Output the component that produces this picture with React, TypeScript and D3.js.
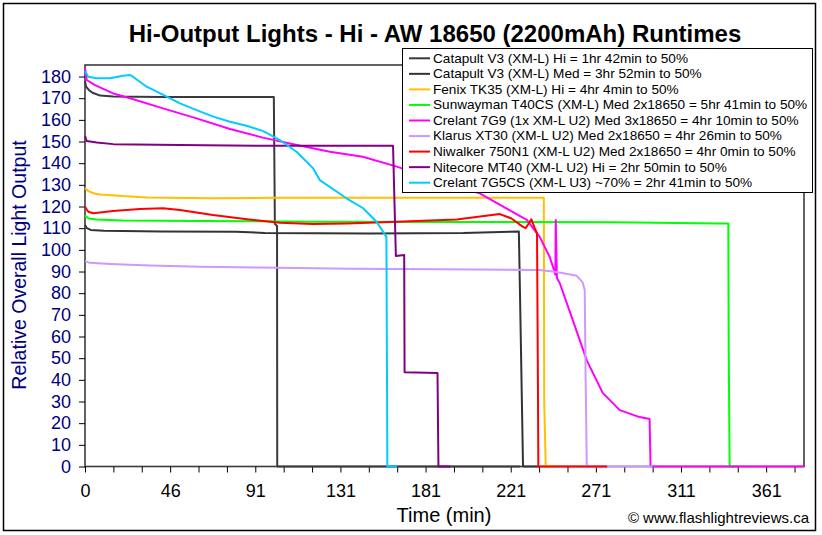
import { useEffect, useRef } from "react"
import * as d3 from "d3"

type Pt = [number, number]

// time (min), relative output
const catapultHi: Pt[] = [
  [0, 178], [0.5, 175.5], [2, 173.8], [4, 172.5], [8, 171.2], [15, 170.8], [40, 170.5],
  [70, 170.6], [99.8, 170.5], [100.35, 112], [101.5, 111], [101.6, 0], [230, 0],
]
const catapultMed: Pt[] = [
  [0, 111.5], [1, 110], [3, 109.2], [10, 108.8], [40, 108.5], [80, 108.3], [95, 107.8],
  [150, 107.6], [200, 107.8], [229.3, 108.5], [230.3, 60], [231.5, 0], [240, 0],
]
const fenixTK35: Pt[] = [
  [0, 128.4], [2, 127], [5, 126], [8, 125.6], [20, 124.8], [33, 124.2], [67, 123.8],
  [100, 124], [150, 124], [200, 124], [242.5, 124], [242.7, 30], [243.5, 0], [250, 0],
]
const sunwaymanT40CS: Pt[] = [
  [0, 115.8], [2, 114.5], [6, 114], [20, 113.6], [60, 113.3], [120, 113], [200, 112.9],
  [280, 112.7], [335, 112.2], [340, 112.2], [340.2, 56], [340.7, 0], [345, 0],
]
const crelant7G9: Pt[] = [
  [0, 184], [0.9, 178.4], [5.3, 176], [14.9, 172.2], [23.8, 170], [41.2, 165.3], [59, 160.7],
  [76.6, 155.8], [94, 151.8], [112, 148.4], [129.4, 145.3], [146.8, 143], [164.8, 138.4],
  [187.5, 131.8], [208.6, 126.1], [222.9, 119], [233.5, 113.8], [240.3, 106], [245.6, 96.7],
  [248.2, 89.8], [248.6, 88.5], [248.8, 113.8], [249.4, 87], [250.9, 84.7], [257.8, 67.6],
  [265.2, 49], [273.6, 34], [282.6, 26], [293.1, 22.8], [298.4, 21.9], [298.9, 0], [380, 0],
]
const klarusXT30: Pt[] = [
  [0, 94.8], [2.6, 94], [13.2, 93.5], [34.3, 92.8], [60.7, 92.2], [92.4, 91.8], [140, 91.3],
  [187.5, 91], [240.3, 90.7], [249.3, 89.8], [259.9, 88], [263, 85], [264.1, 81.5],
  [264.6, 40], [265.2, 0], [300, 0],
]
const niwalker750N1: Pt[] = [
  [0, 119.9], [1.7, 117.6], [4.4, 116.9], [14.8, 117.9], [29, 118.8], [41.2, 119.2],
  [50.2, 118.4], [67.6, 116.1], [85.6, 114.1], [103, 112.5], [120.4, 111.9], [138.4, 112.2],
  [164.8, 113], [196.5, 114], [219.2, 116.5], [225.4, 114.5], [231.3, 110.7], [232.9, 110],
  [235.9, 114.1], [237.7, 110], [238.9, 107.6], [239.3, 50], [239.6, 0], [276, 0],
]
const nitecoreMT40: Pt[] = [
  [0, 152.7], [0.9, 150.2], [6.2, 149.5], [14.9, 148.8], [50, 148.4], [103, 148],
  [162.8, 148], [164.3, 97.2], [168.7, 97.6], [168.9, 43.5], [186.3, 43.2], [186.8, 0], [193, 0],
]
const crelant7G5CS: Pt[] = [
  [0, 182.5], [1.7, 179.9], [6.2, 179.2], [13.2, 179.2], [20.2, 180.4], [23.8, 180.7],
  [25.5, 179.8], [32.6, 175.3], [41.4, 171.5], [50.2, 167.6], [59, 164.5], [67.8, 161.5],
  [76.6, 159.1], [85.4, 157.3], [94.2, 154.8], [103, 150.7], [111.8, 145.3], [120.6, 137.6],
  [124.1, 132.2], [138.2, 123.8], [147, 119.2], [154.1, 113], [159.3, 106], [159.8, 0], [165, 0],
]

const seriesNames = [
  "Catapult V3 (XM-L) Hi = 1hr 42min to 50%",
  "Catapult V3 (XM-L) Med = 3hr 52min to 50%",
  "Fenix TK35 (XM-L) Hi = 4hr 4min to 50%",
  "Sunwayman T40CS (XM-L) Med 2x18650 = 5hr 41min to 50%",
  "Crelant 7G9 (1x XM-L U2) Med 3x18650 = 4hr 10min to 50%",
  "Klarus XT30 (XM-L U2) Med 2x18650 = 4hr 26min to 50%",
  "Niwalker 750N1 (XM-L U2) Med 2x18650 = 4hr 0min to 50%",
  "Nitecore MT40 (XM-L U2) Hi = 2hr 50min to 50%",
  "Crelant 7G5CS (XM-L U3) ~70% = 2hr 41min to 50%",
]
const seriesData = [
  catapultHi, catapultMed, fenixTK35, sunwaymanT40CS, crelant7G9,
  klarusXT30, niwalker750N1, nitecoreMT40, crelant7G5CS,
]
const seriesColors = [
  "#3a3a3a", "#333333", "#ffc000", "#00ff00", "#ff00ff",
  "#cc99ff", "#ff0000", "#800080", "#00ccff",
]

const yTicks = [0, 10, 20, 30, 40, 50, 60, 70, 80, 90, 100, 110, 120, 130, 140, 150, 160, 170, 180]
const xTickMinutes = [0, 15, 30, 45, 60, 75, 90, 105, 120, 135, 150, 165, 180, 195, 210, 225, 240, 255, 270, 285, 300, 315, 330, 345, 360, 375]
const xTickLabels = ["0", "46", "91", "131", "181", "221", "271", "311", "361"]

const W = 822
const H = 535
const FONT = "'Liberation Sans', Arial, sans-serif"

export default function App() {
  const ref = useRef<SVGSVGElement>(null)

  useEffect(() => {
    if (!ref.current) return
    const svg = d3.select(ref.current)
    svg.selectAll("*").remove()

    const left = 85, right = 804, top = 65, bottom = 466.5
    const x = d3.scaleLinear().domain([0, 380]).range([left, right])
    const y = d3.scaleLinear().domain([0, 185]).range([bottom, top + 0.7])

    // outer frame
    svg.append("rect").attr("x", 3.5).attr("y", 3.5).attr("width", 812).attr("height", 527)
      .attr("fill", "#fff").attr("stroke", "#000").attr("stroke-width", 1.5)

    // title
    svg.append("text").attr("x", 435).attr("y", 42).attr("text-anchor", "middle")
      .attr("font-family", FONT).attr("font-size", 24).attr("font-weight", "bold")
      .text("Hi-Output Lights - Hi - AW 18650 (2200mAh) Runtimes")

    // plot area
    svg.append("rect").attr("x", left).attr("y", top).attr("width", right - left).attr("height", bottom - top)
      .attr("fill", "#fff").attr("stroke", "#3c3c3c").attr("stroke-width", 1.6)

    // y axis
    const yAxis = svg.append("g").attr("transform", `translate(${left},0)`)
      .call(d3.axisLeft(y).tickValues(yTicks).tickSize(6).tickPadding(8))
    yAxis.select(".domain").remove()
    yAxis.selectAll("line").attr("stroke", "#000")
    yAxis.selectAll("text").attr("font-family", FONT).attr("font-size", 18).attr("fill", "#000080")

    // x axis
    const xAxis = svg.append("g").attr("transform", `translate(0,${bottom})`)
      .call(
        d3.axisBottom(x).tickValues(xTickMinutes).tickSize(6).tickPadding(12)
          .tickFormat((_d, i) => (i % 3 === 0 ? xTickLabels[i / 3] : ""))
      )
    xAxis.select(".domain").remove()
    xAxis.selectAll("line").attr("stroke", "#000")
    xAxis.selectAll("text").attr("font-family", FONT).attr("font-size", 18).attr("fill", "#000")

    // axis titles
    svg.append("text").attr("transform", "translate(26,265) rotate(-90)").attr("text-anchor", "middle")
      .attr("font-family", FONT).attr("font-size", 19.5).attr("fill", "#000080")
      .text("Relative Overall Light Output")
    svg.append("text").attr("x", 444).attr("y", 521.5).attr("text-anchor", "middle")
      .attr("font-family", FONT).attr("font-size", 20).attr("fill", "#000")
      .text("Time (min)")
    svg.append("text").attr("x", 809).attr("y", 523).attr("text-anchor", "end")
      .attr("font-family", FONT).attr("font-size", 15).attr("fill", "#000")
      .text("© www.flashlightreviews.ca")

    // series
    const line = d3.line<Pt>().x((d) => x(d[0])).y((d) => y(d[1]))
    svg.append("g").selectAll("path").data(seriesData).join("path")
      .attr("d", (d) => line(d))
      .attr("fill", "none")
      .attr("stroke", (_d, i) => seriesColors[i])
      .attr("stroke-width", 2)
      .attr("stroke-linejoin", "round")

    // legend
    const lg = svg.append("g")
    lg.append("rect").attr("x", 402.5).attr("y", 48.5).attr("width", 410).attr("height", 144)
      .attr("fill", "#fff").attr("stroke", "#000").attr("stroke-width", 1)
    seriesNames.forEach((name, i) => {
      const cy = 58.3 + i * 15.55
      lg.append("line").attr("x1", 409).attr("x2", 430).attr("y1", cy).attr("y2", cy)
        .attr("stroke", seriesColors[i]).attr("stroke-width", 2)
      lg.append("text").attr("x", 433).attr("y", cy + 4.4)
        .attr("font-family", FONT).attr("font-size", 13.6).attr("fill", "#000")
        .text(name)
    })
  }, [])

  return (
    <div style={{ position: "absolute", left: 0, top: 0 }}>
      <svg ref={ref} width={W} height={H} style={{ display: "block" }} />
    </div>
  )
}
